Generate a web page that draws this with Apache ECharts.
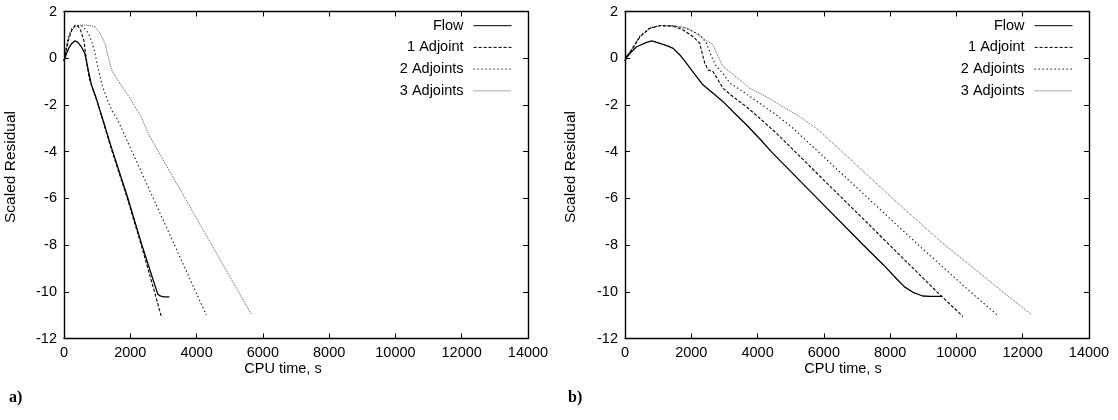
<!DOCTYPE html>
<html>
<head>
<meta charset="utf-8">
<script src="https://cdn.jsdelivr.net/npm/echarts@6/dist/echarts.min.js"></script>
<style>
html,body{margin:0;padding:0;background:#fff;}
#chart{width:1118px;height:420px;}
</style>
</head>
<body>
<div id="chart"></div>
<script>
// ---------- tick labels ----------
const xTickValues = [0, 2000, 4000, 6000, 8000, 10000, 12000, 14000];
const xTickLabels = ['0', '2000', '4000', '6000', '8000', '10000', '12000', '14000'];
const yTickValues = [-12, -10, -8, -6, -4, -2, 0, 2];
const yTickLabels = ['-12', '-10', '-8', '-6', '-4', '-2', '0', '2'];
const seriesNames = ['Flow', '1 Adjoint', '2 Adjoints', '3 Adjoints'];

// ---------- panel a) ----------
const flowA_time = [0, 60, 150, 230, 331, 420, 520, 630, 730, 830, 980, 1165, 1436, 1918, 2339, 2600, 2760, 2830, 2900, 3000, 3180];
const flowA_res  = [-0.12, 0.15, 0.45, 0.62, 0.75, 0.68, 0.5, 0.2, -0.5, -1.15, -1.75, -2.6, -3.85, -5.95, -7.95, -9.1, -9.8, -10.1, -10.18, -10.22, -10.22];

const adj1A_time = [0, 60, 150, 250, 340, 420, 500, 600, 680, 760, 860, 1000, 1165, 1420, 1900, 2320, 2720, 2941];
const adj1A_res  = [-0.12, 0.3, 0.85, 1.25, 1.42, 1.38, 1.2, 0.75, -0.1, -0.85, -1.3, -1.85, -2.62, -3.85, -5.95, -7.95, -9.95, -11.08];

const adj2A_time = [0, 50, 130, 230, 340, 480, 600, 720, 830, 930, 1030, 1150, 1300, 1450, 1620, 2055, 2695, 3335, 3975, 4296];
const adj2A_res  = [-0.12, 0.35, 0.9, 1.25, 1.38, 1.42, 1.32, 1.1, 0.75, 0.25, -0.45, -1.15, -1.75, -2.25, -2.64, -4.0, -6.0, -8.0, -10.0, -11.0];

const adj3A_time = [0, 50, 130, 230, 350, 500, 632, 780, 934, 1084, 1235, 1335, 1436, 1560, 1686, 1840, 1987, 2130, 2288, 2590, 2850, 3655, 4460, 5265, 5651];
const adj3A_res  = [-0.12, 0.3, 0.85, 1.2, 1.35, 1.42, 1.42, 1.4, 1.35, 1.07, 0.64, 0.07, -0.5, -0.8, -1.07, -1.4, -1.7, -2.05, -2.4, -3.36, -4.0, -6.0, -8.0, -10.0, -10.96];

// ---------- panel b) ----------
const flowB_time = [0, 60, 150, 351, 652, 803, 1054, 1300, 1455, 1656, 1857, 2158, 2358, 2659, 2960, 3262, 3663, 4065, 4412, 5800, 7190, 7800, 8200, 8435, 8711, 8979, 9200, 9572];
const flowB_res  = [-0.12, 0.05, 0.21, 0.49, 0.68, 0.74, 0.64, 0.52, 0.42, 0.14, -0.22, -0.79, -1.15, -1.5, -1.86, -2.29, -2.85, -3.45, -4.0, -6.0, -8.0, -8.85, -9.45, -9.79, -10.04, -10.18, -10.2, -10.2];

const adj1B_time = [0, 60, 201, 452, 753, 1054, 1455, 1756, 2057, 2258, 2330, 2409, 2509, 2659, 2810, 2960, 3262, 3663, 4065, 4567, 5130, 6560, 7985, 9410, 10195];
const adj1B_res  = [-0.12, 0.1, 0.35, 0.92, 1.28, 1.39, 1.37, 1.21, 0.92, 0.64, 0.2, -0.22, -0.5, -0.58, -0.93, -1.29, -1.65, -2.08, -2.57, -3.21, -4.0, -6.0, -8.0, -10.0, -11.06];

const adj2B_time = [0, 60, 201, 452, 753, 1054, 1455, 1857, 2258, 2459, 2610, 2760, 2960, 3162, 3563, 4065, 4567, 5069, 5826, 7340, 8855, 10420, 11237];
const adj2B_res  = [-0.12, 0.1, 0.37, 0.95, 1.3, 1.4, 1.38, 1.28, 1.0, 0.64, 0.07, -0.36, -0.65, -1.07, -1.43, -1.93, -2.43, -3.0, -4.0, -6.0, -8.0, -10.0, -11.0];

const adj3B_time = [0, 60, 201, 452, 753, 1054, 1455, 1857, 2057, 2358, 2659, 2810, 2960, 3162, 3463, 3764, 4267, 4768, 5270, 5772, 6550, 8070, 9485, 11398, 12258];
const adj3B_res  = [-0.12, 0.1, 0.37, 0.95, 1.3, 1.4, 1.4, 1.3, 1.14, 0.85, 0.57, 0.07, -0.36, -0.58, -0.93, -1.29, -1.65, -2.08, -2.5, -3.0, -4.0, -6.0, -7.8, -10.0, -10.97];

// ---------- helpers ----------
function pairs(ts, vs) { return ts.map((t, i) => [t, vs[i]]); }

const FONT = 'Liberation Sans, Arial, Helvetica, sans-serif';
const FS = 14.5;

const lineStyles = [
  { color: '#000', width: 1.3, type: 'solid' },
  { color: '#000', width: 1.1, type: [3.2, 1.8] },
  { color: '#111', width: 1.1, type: [1.4, 2.6] },
  { color: '#555', width: 1.0, type: [1, 1] }
];

const panels = [
  { left: 64, data: [[flowA_time, flowA_res], [adj1A_time, adj1A_res], [adj2A_time, adj2A_res], [adj3A_time, adj3A_res]] },
  { left: 625, data: [[flowB_time, flowB_res], [adj1B_time, adj1B_res], [adj2B_time, adj2B_res], [adj3B_time, adj3B_res]] }
];

const grids = [], xAxes = [], yAxes = [], series = [], legends = [], graphics = [];
const axisLineStyle = { color: '#000', width: 1.4 };

panels.forEach((p, gi) => {
  grids.push({ left: p.left, top: 11.5, width: 464, height: 327, containLabel: false });
  xAxes.push({
    gridIndex: gi, type: 'value', min: 0, max: 14000, interval: 2000, position: 'bottom',
    axisLine: { show: true, onZero: false, lineStyle: axisLineStyle },
    axisTick: { show: true, inside: true, length: 5, lineStyle: { color: '#000', width: 1 } },
    axisLabel: { show: true, margin: 7, color: '#000', fontFamily: FONT, fontSize: FS,
      formatter: v => xTickLabels[xTickValues.indexOf(v)] },
    splitLine: { show: false }
  });
  xAxes.push({
    gridIndex: gi, type: 'value', min: 0, max: 14000, interval: 2000, position: 'top',
    axisLine: { show: true, onZero: false, lineStyle: axisLineStyle },
    axisTick: { show: true, inside: true, length: 5, lineStyle: { color: '#000', width: 1 } },
    axisLabel: { show: false }, splitLine: { show: false }
  });
  yAxes.push({
    gridIndex: gi, type: 'value', min: -12, max: 2, interval: 2, position: 'left',
    axisLine: { show: true, onZero: false, lineStyle: axisLineStyle },
    axisTick: { show: true, inside: true, length: 5, lineStyle: { color: '#000', width: 1 } },
    axisLabel: { show: true, margin: 7, color: '#000', fontFamily: FONT, fontSize: FS,
      formatter: v => yTickLabels[yTickValues.indexOf(v)] },
    splitLine: { show: false }
  });
  yAxes.push({
    gridIndex: gi, type: 'value', min: -12, max: 2, interval: 2, position: 'right',
    axisLine: { show: true, onZero: false, lineStyle: axisLineStyle },
    axisTick: { show: true, inside: true, length: 5, lineStyle: { color: '#000', width: 1 } },
    axisLabel: { show: false }, splitLine: { show: false }
  });

  p.data.forEach((d, si) => {
    series.push({
      name: seriesNames[si], type: 'line',
      xAxisIndex: gi * 2, yAxisIndex: gi * 2,
      data: pairs(d[0], d[1]),
      symbol: 'none', showSymbol: false, smooth: false,
      lineStyle: lineStyles[si], itemStyle: { color: lineStyles[si].color },
      emphasis: { disabled: true }, z: 10 - si
    });
  });
});

const legendRowY = [25.7, 47.4, 69.1, 90.8];
const legendRight = [1118 - 512, 1118 - 1073];
legendRight.forEach(r => {
  seriesNames.forEach((n, i) => {
    legends.push({
      data: [n], orient: 'horizontal', align: 'right', right: r, top: legendRowY[i] - 8,
      itemWidth: 38, itemHeight: 16, padding: 0, selectedMode: false,
      itemStyle: { opacity: 0, borderWidth: 0 },
      lineStyle: { width: 1 },
      textStyle: { color: '#000', fontFamily: FONT, fontSize: FS, lineHeight: 16, padding: [0, 5, 0, 0] }
    });
  });
});

[[11, 283, 'a)', 9], [571, 843, 'b)', 568]].forEach(([yx, cx, lab, lx]) => {
  graphics.push({
    type: 'text', x: yx, y: 167, rotation: Math.PI / 2,
    style: { text: 'Scaled Residual', fill: '#000', font: '15.5px ' + FONT, textAlign: 'center', textVerticalAlign: 'middle' }
  });
  graphics.push({
    type: 'text', x: cx, y: 369,
    style: { text: 'CPU time, s', fill: '#000', font: FS + 'px ' + FONT, textAlign: 'center', textVerticalAlign: 'middle' }
  });
  graphics.push({
    type: 'text', x: lx, y: 398,
    style: { text: lab, fill: '#000', font: 'bold 16px "Liberation Serif", "DejaVu Serif", serif', textAlign: 'left', textVerticalAlign: 'middle' }
  });
});

const chart = echarts.init(document.getElementById('chart'), null, { renderer: 'canvas' });
chart.setOption({
  animation: false,
  backgroundColor: '#fff',
  grid: grids, xAxis: xAxes, yAxis: yAxes,
  legend: legends, series: series, graphic: graphics
});
</script>
</body>
</html>
